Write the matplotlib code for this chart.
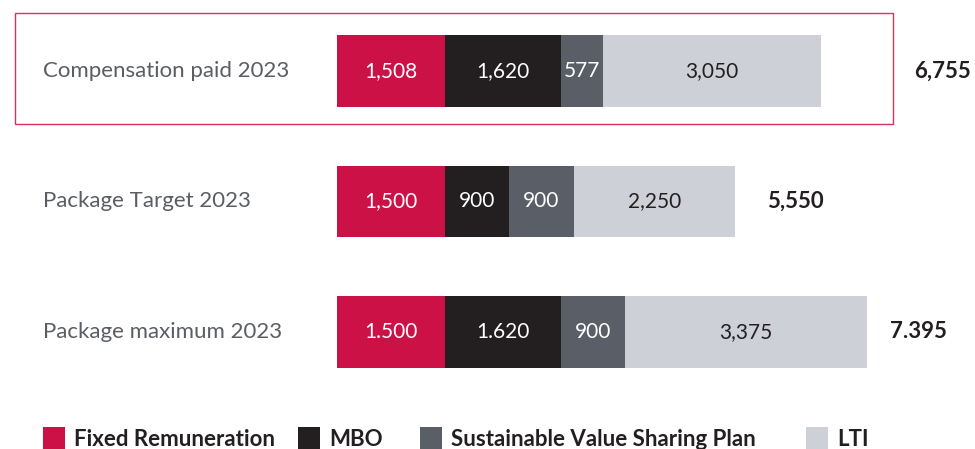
import matplotlib
matplotlib.use('Agg')
from matplotlib import pyplot as plt
from matplotlib.patches import Rectangle

plt.rcParams['font.family'] = ['Lato', 'DejaVu Sans']

categories = ['Compensation paid 2023', 'Package Target 2023', 'Package maximum 2023']
components = ['Fixed Remuneration', 'MBO', 'Sustainable Value Sharing Plan', 'LTI']
fixed = [1508, 1500, 1500]
mbo = [1620, 900, 1620]
svsp = [577, 900, 900]
lti = [3050, 2250, 3375]
bar_labels = [
    ['1,508', '1,620', '577', '3,050'],
    ['1,500', '900', '900', '2,250'],
    ['1.500', '1.620', '900', '3,375'],
]
totals = ['6,755', '5,550', '7.395']

colors = ['#CC1146', '#231F20', '#5A5E66', '#CDD0D7']
text_colors = ['white', 'white', 'white', '#231F20']


def main():
    fig = plt.figure(figsize=(9.75, 4.49), dpi=100)
    ax = fig.add_axes([0, 0, 1, 1])
    px = 0.0717  # pixels per unit
    ax.set_xlim(-337 / px, (975 - 337) / px)
    ax.set_ylim(2.897, -0.544)
    ax.axis('off')

    total_gap = [1683, 838, 708]
    series = [fixed, mbo, svsp, lti]
    for i in range(len(categories)):
        left = 0
        for j, vals in enumerate(series):
            v = vals[i]
            ax.barh(i, v, left=left, height=0.55, color=colors[j], linewidth=0)
            ax.text(left + v / 2, i, bar_labels[i][j], ha='center', va='center',
                    color=text_colors[j], fontsize=15)
            left += v
        ax.text(left + total_gap[i], i, totals[i],
                ha='center', va='center', fontsize=16, fontweight='bold',
                color='#231F20')
        ax.text(43 / 975, i, categories[i], transform=ax.get_yaxis_transform(),
                ha='left', va='center', fontsize=16, color='#5A5D63')

    # frame around first row
    fig.patches.append(Rectangle((15 / 975, 1 - 124 / 449), 878 / 975, 111 / 449,
                                 transform=fig.transFigure, fill=False,
                                 edgecolor='#D6335F', linewidth=1.0))

    # legend
    leg_x = [43, 298, 420, 806]
    for k, name in enumerate(components):
        x0 = leg_x[k] / 975
        fig.patches.append(Rectangle((x0, 0), 22 / 975, 22 / 449,
                                     transform=fig.transFigure,
                                     color=colors[k], linewidth=0))
        fig.text(x0 + 31 / 975, 10 / 449, name, ha='left', va='center',
                 fontsize=16, fontweight='bold', color='#231F20')

    fig.savefig('out.png', dpi=100)


if __name__ == '__main__':
    main()
